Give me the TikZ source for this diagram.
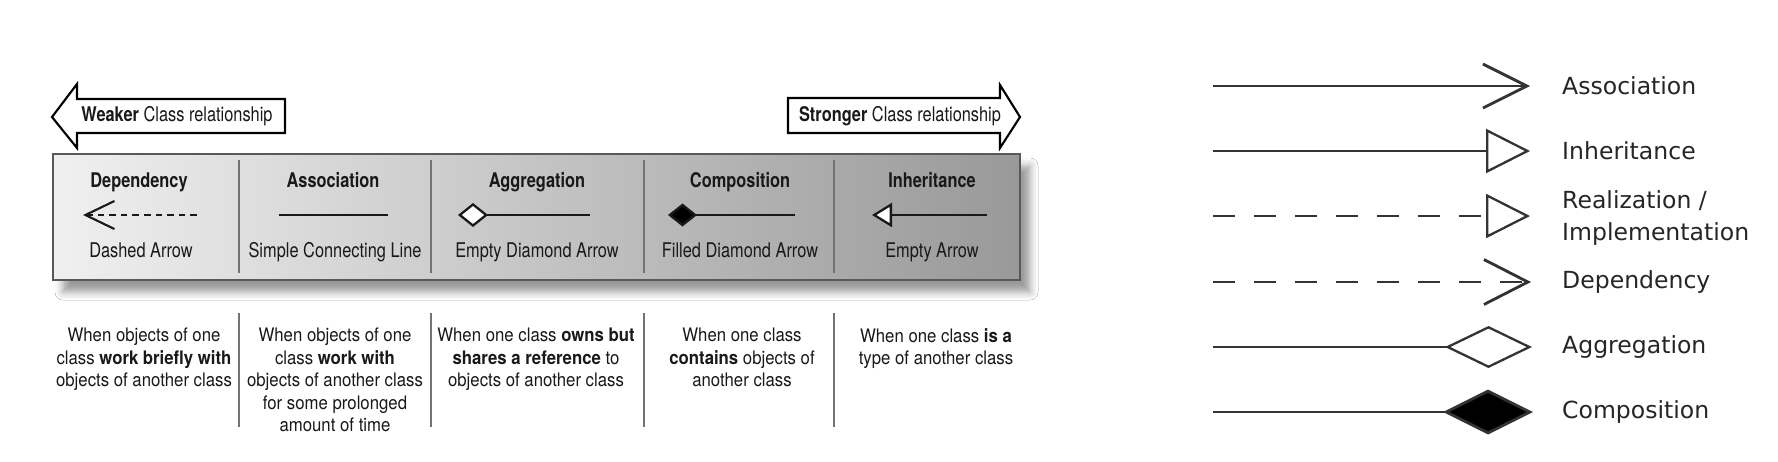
\documentclass[tikz,border=0pt]{standalone}
\usepackage{fontspec}
\newfontfamily\condfont{TeX Gyre Heros}[FakeStretch=0.9]
\newfontfamily\condhead{TeX Gyre Heros}[FakeStretch=0.81]
\newfontfamily\legendfont{DejaVu Sans}
\usetikzlibrary{arrows.meta}
\usetikzlibrary{shadows.blur}
\usetikzlibrary{positioning}
\tikzset{
  colhead/.style={font=\condhead\bfseries\fontsize{11.5}{13}\selectfont,
    anchor=base, text=black!90},
  colsub/.style={font=\condhead\fontsize{11.5}{13}\selectfont,
    anchor=base, text=black!90},
  coltext/.style={font=\condfont\fontsize{10.6}{12.8}\selectfont,
    align=center, anchor=north, inner sep=0pt, text=black!90},
  bandtext/.style={font=\condhead\fontsize{11.5}{13}\selectfont,
    inner sep=0pt, text=black!90},
  divider/.style={draw=black!55, line width=1.2pt},
  symline/.style={draw=black!90, line width=1.1pt},
  legline/.style={draw=black!80, line width=1.6pt},
  legdash/.style={legline, dash pattern=on 0.44cm off 0.38cm},
  legtext/.style={font=\legendfont\fontsize{13.4}{18.5}\selectfont,
    anchor=west, align=left, text=black!85}
}

\begin{document}
\begin{tikzpicture}[x=0.02cm, y=-0.02cm, line cap=butt]

  \useasboundingbox (0,0) rectangle (1778,461);
  \fill [white] (0,0) rectangle (1778,461);

  % weaker / stronger arrows
  \draw [line width=1.2pt, line join=miter, fill=white]
    (52,117) -- (77,84) -- (77,99) -- (285,99) -- (285,133)
    -- (77,133) -- (77,148) -- cycle;
  \node [bandtext] (weak) at (177,116) {\textbf{Weaker} Class relationship};

  \draw [line width=1.2pt, line join=miter, fill=white]
    (1020,117) -- (1000,85) -- (1000,98) -- (788,98) -- (788,133)
    -- (1000,133) -- (1000,148) -- cycle;
  \node [bandtext] (strong) at (900,116) {\textbf{Stronger} Class relationship};

  % the band
  \path [draw=black!65, line width=0.8pt, left color=gray!12, right color=gray!80,
    blur shadow={shadow xshift=0.2cm, shadow yshift=-0.24cm,
      shadow blur radius=0.16cm, shadow opacity=40}]
    (53,154) rectangle (1020,280);

  \foreach \xd in {239,431,644,834}
    \draw [divider] (\xd,160) -- (\xd,273);

  \node [colhead] (hdep) at (139,187) {Dependency};
  \node [colhead] (hass) at (333,187) {Association};
  \node [colhead] (hagg) at (537,187) {Aggregation};
  \node [colhead] (hcom) at (740,187) {Composition};
  \node [colhead] (hinh) at (932,187) {Inheritance};

  \node [colsub] (sdep) at (141,257) {Dashed Arrow};
  \node [colsub] (sass) at (335,257) {Simple Connecting Line};
  \node [colsub] (sagg) at (537,257) {Empty Diamond Arrow};
  \node [colsub] (scom) at (740,257) {Filled Diamond Arrow};
  \node [colsub] (sinh) at (932,257) {Empty Arrow};

  % symbols in the band
  \coordinate (depR) at (197,215);
  \coordinate (depL) at (83,215);
  \draw [symline, dash pattern=on 3.8pt off 2.8pt,
    -{Straight Barb[length=0.58cm, width=0.56cm, line width=1.2pt]}] (depR) -- (depL);

  \coordinate (assL) at (279,215);
  \coordinate (assR) at (388,215);
  \draw [symline, line width=1.3pt] (assL) -- (assR);

  \coordinate (aggR) at (590,215);
  \coordinate (aggL) at (458,215);
  \draw [symline, line width=1.3pt,
    -{Diamond[fill=white, length=0.6cm, width=0.48cm]}] (aggR) -- (aggL);

  \coordinate (comR) at (795,215);
  \coordinate (comL) at (668,215);
  \draw [symline, line width=1.3pt,
    -{Diamond[fill=black, length=0.58cm, width=0.46cm]}] (comR) -- (comL);

  \coordinate (inhR) at (987,215);
  \coordinate (inhL) at (872,215);
  \draw [symline, line width=1.3pt,
    -{Triangle[fill=white, length=0.4cm, width=0.48cm]}] (inhR) -- (inhL);

  % texts below the band
  \foreach \xd in {239,431,644,834}
    \draw [divider] (\xd,313) -- (\xd,427);

  \node [coltext] (tdep) at (144,328)
    {When objects of one\\ class \textbf{work briefly with}\\ objects of another class};
  \node [coltext] (tass) at (335,328)
    {When objects of one\\ class \textbf{work with}\\ objects of another class\\
     for some prolonged\\ amount of time};
  \node [coltext] (tagg) at (536,328)
    {When one class \textbf{owns but}\\ \textbf{shares a reference} to\\ objects of another class};
  \node [coltext] (tcom) at (742,328)
    {When one class\\ \textbf{contains} objects of\\ another class};
  \node [coltext] (tinh) at (936,328)
    {When one class \textbf{is a}\\ type of another class};

  % legend on the right
  \coordinate (a1) at (1213,86);  \coordinate (b1) at (1530,86);
  \coordinate (a2) at (1213,151); \coordinate (b2) at (1530,151);
  \coordinate (a3) at (1213,216); \coordinate (b3) at (1530,216);
  \coordinate (a4) at (1213,282); \coordinate (b4) at (1531,282);
  \coordinate (a5) at (1213,347); \coordinate (b5) at (1532,347);
  \coordinate (a6) at (1213,412); \coordinate (b6) at (1533,412);

  \draw [legline, -{Straight Barb[length=0.88cm, width=0.88cm]}] (a1) -- (b1);
  \draw [legline, -{Triangle[fill=white, length=0.88cm, width=0.88cm, line width=1.3pt]}] (a2) -- (b2);
  \draw [legdash, -{Triangle[fill=white, length=0.88cm, width=0.88cm, line width=1.3pt]}] (a3) -- (b3);
  \draw [legdash, -{Straight Barb[length=0.88cm, width=0.9cm]}] (a4) -- (b4);
  \draw [legline, -{Diamond[fill=white, length=1.74cm, width=0.84cm, line width=1.3pt]}] (a5) -- (b5);
  \draw [legline, -{Diamond[fill=black, length=1.8cm, width=0.9cm]}] (a6) -- (b6);

  \node [legtext] (l1) at (1556,86) {Association};
  \node [legtext] (l2) at (1556,151) {Inheritance};
  \node [legtext] (l3) at (1556,218) {Realization /\\Implementation};
  \node [legtext] (l4) at (1556,282) {Dependency};
  \node [legtext] (l5) at (1556,347) {Aggregation};
  \node [legtext] (l6) at (1556,412) {Composition};

\end{tikzpicture}
\end{document}
